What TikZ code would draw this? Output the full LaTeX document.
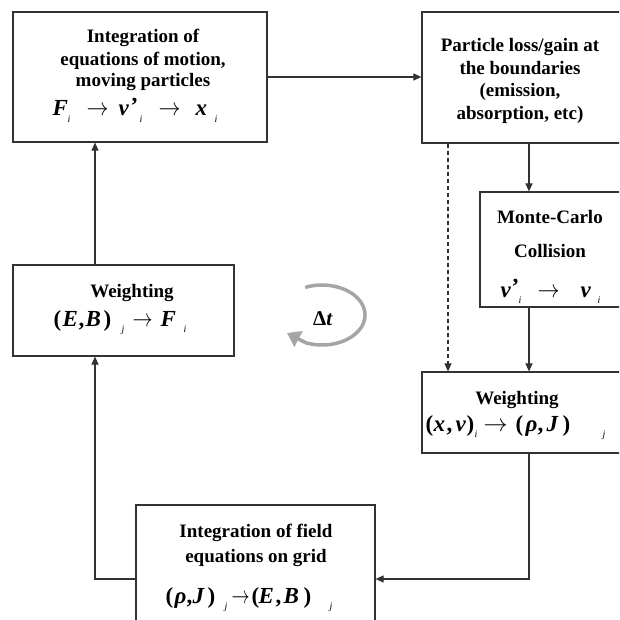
\documentclass[tikz,border=0pt]{standalone}
\usepackage{fontspec}
\setmainfont{Liberation Serif}
\usetikzlibrary{arrows.meta}
\newcommand{\bv}[1]{\textbf{\textit{#1}}}
\newcommand{\bp}[1]{{\bfseries\upshape #1}}
\newcommand{\lo}[1]{\raisebox{-0.3em}{\fontsize{10}{10}\selectfont\itshape #1}}
\newcommand{\prm}{\raisebox{0.12em}{\bfseries\upshape '}}
\newcommand{\ar}[1]{\resizebox{#1pt}{\height}{$\rightarrow$}}
\newcommand{\at}[2]{\rlap{\hspace{#1pt}#2}}
\definecolor{lc}{RGB}{50,50,50}
\definecolor{dtc}{RGB}{165,165,165}
\begin{document}
\begin{tikzpicture}[x=1pt,y=1pt,
  box/.style={draw=lc, line width=1.2pt, rectangle, inner sep=0pt, fill=white},
  conn/.style={draw=lc, line width=1.1pt, -{Triangle[length=8pt,width=7pt]}},
  dconn/.style={conn, dash pattern=on 4pt off 3pt},
  txt/.style={font=\bfseries\fontsize{19}{22}\selectfont, anchor=base, inner sep=0pt},
  mth/.style={font=\fontsize{23}{26}\selectfont, anchor=base west, inner sep=0pt},
  darc/.style={draw=dtc, line width=3.5pt, -{Triangle[length=13pt,width=17pt,fill=dtc]}}]
\useasboundingbox (0,0) rectangle (619,-620);
\fill[white] (0,0) rectangle (619,-620);
\clip (0,0) rectangle (619,-620);

% boxes
\node[box, minimum width=254pt, minimum height=130pt] (b1) at (140,-77) {};
\node[box, minimum width=208pt, minimum height=131pt] (b2) at (526,-77.5) {};
\node[box, minimum width=150pt, minimum height=115pt] (b3) at (555,-249.5) {};
\node[box, minimum width=208pt, minimum height=81pt] (b4) at (526,-412.5) {};
\node[box, minimum width=239pt, minimum height=130pt] (b5) at (255.5,-570) {};
\node[box, minimum width=221pt, minimum height=91pt] (b6) at (123.5,-310.5) {};

% texts box 1
\node[txt] (t1a) at (143,-43) {Integration of};
\node[txt] (t1b) at (143,-66) {equations of motion,};
\node[txt] (t1c) at (143,-87) {moving particles};
\node[mth] (m1) at (52,-116) {\at{0}{\bv{F}}\at{15}{\lo{i}}\at{34}{\ar{22}}\at{66}{\bv{v}}\at{78}{\prm}\at{87}{\lo{i}}\at{106}{\ar{22}}\at{143}{\bv{x}}\at{162}{\lo{i}}};

% texts box 2
\node[txt] (t2a) at (520,-52) {Particle loss/gain at};
\node[txt] (t2b) at (520,-75) {the boundaries};
\node[txt] (t2c) at (520,-97) {(emission,};
\node[txt] (t2d) at (520,-120) {absorption, etc)};

% texts box 3
\node[txt] (t3a) at (550,-223) {Monte-Carlo};
\node[txt] (t3b) at (550,-257) {Collision};
\node[mth] (m3) at (500,-297) {\at{0}{\bv{v}}\at{11}{\prm}\at{18}{\lo{i}}\at{37}{\ar{22}}\at{80}{\bv{v}}\at{97}{\lo{i}}};

% texts box 4
\node[txt] (t4a) at (517,-404) {Weighting};
\node[mth] (m4) at (425,-431) {\at{0}{\bp{(}}\at{8}{\bv{x}}\at{21}{\bp{,}}\at{30}{\bv{v}}\at{41}{\bp{)}}\at{49}{\lo{i}}\at{58}{\ar{24}}\at{90}{\bp{(}}\at{100}{\bv{ρ}}\at{112}{\bp{,}}\at{121}{\bv{J}}\at{137}{\bp{)}}\at{177}{\lo{j}}};

% texts box 5
\node[txt] (t5a) at (256,-537) {Integration of field};
\node[txt] (t5b) at (256,-562) {equations on grid};
\node[mth] (m5) at (165,-603) {\at{0}{\bp{(}}\at{9}{\bv{ρ}}\at{21}{\bp{,}}\at{27}{\bv{J}}\at{42}{\bp{)}}\at{59}{\lo{j}}\at{66}{\ar{18}}\at{86}{\bp{(}}\at{93}{\bv{E}}\at{110}{\bp{,}}\at{118}{\bv{B}}\at{138}{\bp{)}}\at{164}{\lo{j}}};

% texts box 6
\node[txt] (t6a) at (132,-297) {Weighting};
\node[mth] (m6) at (53,-326) {\at{0}{\bp{(}}\at{9}{\bv{E}}\at{25}{\bp{,}}\at{32}{\bv{B}}\at{50}{\bp{)}}\at{68}{\lo{j}}\at{79}{\ar{20}}\at{107}{\bv{F}}\at{130}{\lo{i}}};

% helper coordinates
\coordinate (cx) at (529,0);
\coordinate (dx) at (448,0);
\coordinate (lx) at (95,0);
\coordinate (ly) at (0,-579);

% connectors
\draw[conn] (b1.east) -- (b1.east -| b2.west);
\draw[conn] (cx |- b2.south) -- (cx |- b3.north);
\draw[dconn] (dx |- b2.south) -- (dx |- b4.north);
\draw[conn] (cx |- b3.south) -- (cx |- b4.north);
\draw[conn] (cx |- b4.south) -- (cx |- ly) -- (b5.east |- ly);
\draw[conn] (b5.west |- ly) -- (lx |- ly) -- (lx |- b6.south);
\draw[conn] (lx |- b6.north) -- (lx |- b1.south);

% delta t cycle
\node[font=\fontsize{21}{24}\selectfont, inner sep=0pt] (dt) at (323,-319) {\bp{Δ}\bv{t}};
\coordinate (tip) at (287,-333);
\draw[darc] (322,-315) ++(113:43pt and 30pt) arc[start angle=113, end angle=-112, x radius=43pt, y radius=30pt] -- (tip);
\end{tikzpicture}
\end{document}
